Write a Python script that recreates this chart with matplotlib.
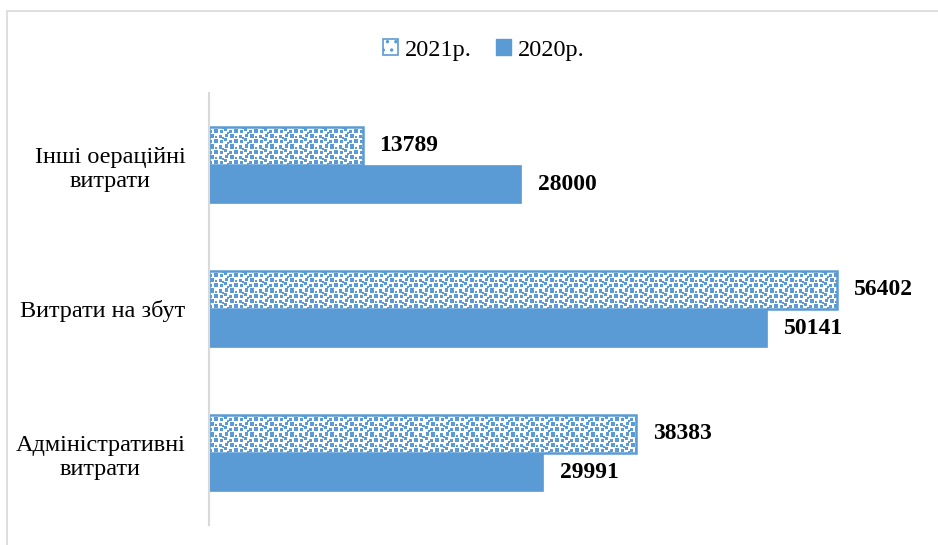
import matplotlib

matplotlib.use("Agg")
import matplotlib.pyplot as plt
import numpy as np
from matplotlib.patches import Patch, Rectangle

SERIF = ["Liberation Serif", "DejaVu Serif"]
plt.rcParams.update({"font.family": SERIF, "hatch.linewidth": 1.2})

CATEGORIES = ["Адміністративні\nвитрати", "Витрати на збут", "Інші оераційні\nвитрати"]
V2021 = [38383, 56402, 13789]
V2020 = [29991, 50141, 28000]
LEGEND = ["2021р.", "2020р."]

BLUE = "#5B9BD5"
GRID = "#D9D9D9"
H = 0.264


def _texture(w_px, h_px):
    # staggered blue squares (confetti fill), repeated as a 10x20 tile
    tile = np.zeros((10, 20), dtype=bool)
    for r, c, s in [(0, 1, 4), (1, 10, 3), (5, 5, 4), (4, 15, 3),
                    (0, 16, 3), (6, 11, 3), (6, 0, 3), (2, 6, 2),
                    (8, 18, 2), (3, 13, 2)]:
        tile[r:r + s, c:c + s] = True
    reps = (h_px // 10 + 2, w_px // 20 + 2)
    mask = np.tile(tile, reps)[2:h_px + 2, :w_px]
    rgba = np.zeros(mask.shape + (4,))
    rgba[mask] = matplotlib.colors.to_rgba(BLUE)
    return rgba


fig = plt.figure(figsize=(9.38, 5.45), dpi=100)
fig.patches.append(Rectangle((7 / 938, -0.1), 1.2, 1.1 - 11 / 545,
                             transform=fig.transFigure, fill=False,
                             edgecolor=GRID, lw=1.2))
ax = fig.add_axes([209 / 938, 20 / 545, 668 / 938, 432 / 545])
ax.set_xlim(0, 60000)
ax.set_ylim(-0.5, 2.5)

y = np.arange(len(CATEGORIES))
b21 = ax.barh(y + H / 2, V2021, height=H, color="white", edgecolor=BLUE, lw=1.8, zorder=2)
b20 = ax.barh(y - H / 2, V2020, height=H, color=BLUE, edgecolor=BLUE, lw=0.5, zorder=2)

px_x = 668 / 60000
px_y = 432 / 3
for bar in b21:
    x0, y0 = bar.get_x(), bar.get_y()
    w, h = bar.get_width(), bar.get_height()
    tex = _texture(int(round(w * px_x)), int(round(h * px_y)))
    im = ax.imshow(tex, extent=(x0, x0 + w, y0, y0 + h), origin="upper",
                   interpolation="nearest", aspect="auto", zorder=2.5)
    im.set_clip_path(bar)

for bars, vals in ((b21, V2021), (b20, V2020)):
    for bar, v in zip(bars, vals):
        ax.annotate(f"{v}", (v, bar.get_y() + bar.get_height() / 2),
                    xytext=(17, 0), textcoords="offset pixels",
                    va="center", ha="left", fontsize=17, fontweight="bold",
                    family=SERIF)

ax.set_yticks(y)
ax.set_yticklabels(CATEGORIES, fontsize=17.5, multialignment="center", family=SERIF)
ax.tick_params(axis="y", length=0, pad=17)
ax.set_xticks([])
for s in ("top", "right", "bottom"):
    ax.spines[s].set_visible(False)
ax.spines["left"].set_color(GRID)
ax.spines["left"].set_linewidth(1.5)
ax.set_ylim(-0.5, 2.5)

handles = [
    Patch(facecolor="white", edgecolor=BLUE, hatch="..", lw=1.2),
    Patch(facecolor=BLUE, edgecolor=BLUE),
]
fig.legend(handles, LEGEND, loc="center", bbox_to_anchor=(0.516, 0.908), ncol=2,
           frameon=False, prop={"family": SERIF, "size": 17.5},
           handlelength=0.6, handleheight=0.6,
           handletextpad=0.3, columnspacing=1.0)

fig.savefig("out.png", dpi=100)
